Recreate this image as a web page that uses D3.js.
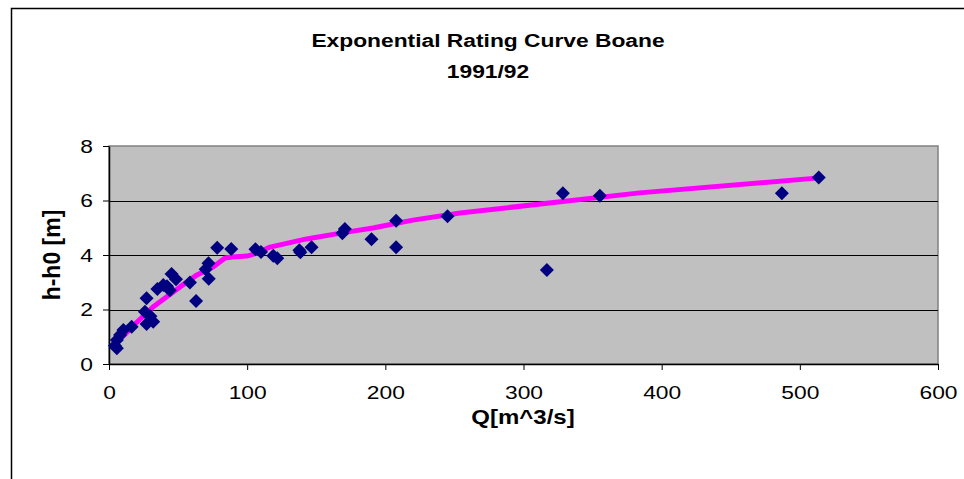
<!DOCTYPE html>
<html>
<head>
<meta charset="utf-8">
<script src="https://cdn.jsdelivr.net/npm/d3@7"></script>
<style>
  body { margin: 0; background: #fff; }
  svg { display: block; font-family: Arial, "Liberation Sans", sans-serif; }
</style>
</head>
<body>
<svg id="chart" width="964" height="479"></svg>
<script>
// measured points Q [m^3/s] and h-h0 [m]
const measuredQ = [4.3, 5.7, 5.7, 8, 10.4, 16.4, 26, 27.2, 27.2, 30, 32, 35, 39.3, 42, 44, 45.3, 48.5,
  58.6, 63, 70, 72, 72.2, 78.3, 88.5, 106, 110, 118.9, 121.8, 137.8, 138.5, 146.6, 168.9, 170.7,
  190, 207.8, 207.8, 245, 316.9, 328.5, 355.3, 487, 513.7];
const measuredH = [0.67, 0.58, 0.88, 1.06, 1.25, 1.37, 1.92, 2.41, 1.47, 1.75, 1.55, 2.75, 2.9, 2.85, 2.71, 3.3, 3.11,
  2.99, 2.31, 3.48, 3.7, 3.13, 4.27, 4.22, 4.21, 4.11, 3.97, 3.88, 4.17, 4.1, 4.28, 4.8, 4.95,
  4.58, 5.26, 4.28, 5.42, 3.45, 6.27, 6.17, 6.27, 6.84];

// fitted rating curve
const curveQ = [4.3, 20.3, 31.8, 51.4, 63.7, 75.3, 84, 89, 100, 107, 116.5, 143, 172, 191, 205.5, 220, 254, 384, 514];
const curveH = [0.72, 1.54, 2.09, 2.83, 3.27, 3.56, 3.89, 3.93, 3.96, 4.07, 4.29, 4.59, 4.84, 4.99, 5.14, 5.28, 5.54, 6.28, 6.83];

const xTicks = [0, 100, 200, 300, 400, 500, 600];
const yTicks = [0, 2, 4, 6, 8];

const svg = d3.select('#chart');
const plot = { left: 109, right: 938, top: 146, bottom: 364 };
const stretch = 'scale(1.2,1)'; // the reference text is a bit wide

const x = d3.scaleLinear().domain([0, 600]).range([plot.left, plot.right]);
const y = d3.scaleLinear().domain([0, 8]).range([plot.bottom, plot.top]);

// outer chart frame (runs off the right and bottom edge)
svg.append('path')
  .attr('d', 'M11.5,480 V8.5 H965')
  .attr('fill', 'none')
  .attr('stroke', '#000')
  .attr('stroke-width', 1.5);

// plot area
svg.append('rect')
  .attr('x', plot.left)
  .attr('y', plot.top)
  .attr('width', plot.right - plot.left)
  .attr('height', plot.bottom - plot.top)
  .attr('fill', '#c0c0c0')
  .attr('stroke', '#808080')
  .attr('stroke-width', 1.5);

// gridlines
svg.append('g')
  .selectAll('line')
  .data(yTicks.filter(d => d > 0 && d < 8))
  .enter()
  .append('line')
  .attr('x1', plot.left)
  .attr('x2', plot.right)
  .attr('y1', d => Math.round(y(d)) + 0.5)
  .attr('y2', d => Math.round(y(d)) + 0.5)
  .attr('stroke', '#000');

// axes
const xAxis = svg.append('g')
  .attr('transform', 'translate(0,' + plot.bottom + ')')
  .call(d3.axisBottom(x).tickValues(xTicks).tickSize(6).tickSizeOuter(0).tickPadding(16));
const yAxis = svg.append('g')
  .attr('transform', 'translate(' + plot.left + ',0)')
  .call(d3.axisLeft(y).tickValues(yTicks).tickSize(6).tickSizeOuter(0));

[xAxis, yAxis].forEach(a => {
  a.select('.domain').attr('stroke', '#000').attr('stroke-width', 1.5);
  a.selectAll('.tick line').attr('stroke', '#000');
  a.selectAll('.tick text')
    .attr('font-size', 19)
    .attr('font-family', 'Arial, "Liberation Sans", sans-serif')
    .attr('fill', '#000')
    .attr('transform', stretch);
});
yAxis.selectAll('.tick text').attr('x', -16 / 1.2);

// rating curve
svg.append('path')
  .datum(curveQ.map((q, i) => [q, curveH[i]]))
  .attr('d', d3.line().x(d => x(d[0])).y(d => y(d[1])))
  .attr('fill', 'none')
  .attr('stroke', '#ff00ff')
  .attr('stroke-width', 5)
  .attr('stroke-linejoin', 'round');

// measured points as diamonds
const r = 7;
svg.append('g')
  .selectAll('path')
  .data(measuredQ.map((q, i) => [q, measuredH[i]]))
  .enter()
  .append('path')
  .attr('transform', d => 'translate(' + x(d[0]) + ',' + y(d[1]) + ')')
  .attr('d', 'M0,' + -r + 'L' + r + ',0L0,' + r + 'L' + -r + ',0Z')
  .attr('fill', '#000080');

// titles
function label(tx, ty, txt, size) {
  return svg.append('text')
    .attr('transform', 'translate(' + tx + ',' + ty + ') ' + stretch)
    .attr('text-anchor', 'middle')
    .attr('font-weight', 'bold')
    .attr('font-size', size)
    .text(txt);
}
label(488, 47, 'Exponential Rating Curve Boane', 19);
label(488, 78, '1991/92', 19);
label(523, 424, 'Q[m^3/s]', 20);

svg.append('text')
  .attr('transform', 'translate(60,255) rotate(-90)')
  .attr('text-anchor', 'middle')
  .attr('font-weight', 'bold')
  .attr('font-size', 23)
  .text('h-h0 [m]');
</script>
</body>
</html>
